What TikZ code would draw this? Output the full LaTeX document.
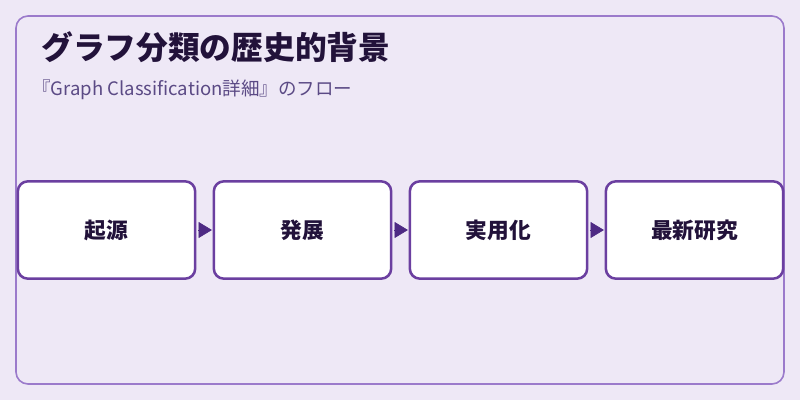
\documentclass[tikz,border=0pt]{standalone}
\usepackage{fontspec}
\setmainfont{Noto Sans CJK JP}
\usetikzlibrary{arrows.meta}
\definecolor{bgpurple}{HTML}{EEE8F6}
\definecolor{framepurple}{HTML}{9B7ACB}
\definecolor{boxpurple}{HTML}{6B3FA0}
\definecolor{arrowpurple}{HTML}{4E2A84}
\definecolor{titleink}{HTML}{22123A}
\definecolor{subink}{HTML}{5B4A85}
\begin{document}
\begin{tikzpicture}[x=0.75pt, y=-0.75pt,
  stagebox/.style={draw=boxpurple, line width=1.9pt, fill=white, rounded corners=7.5pt,
    minimum width=133pt, minimum height=73pt, font=\fontsize{16.3}{18}\selectfont\bfseries, text=titleink},
  flow/.style={draw=arrowpurple, line width=0.5pt, -{Triangle[length=10pt, width=12pt]}, shorten <=1pt, shorten >=0.5pt}]
\useasboundingbox (0,0) rectangle (800,400);
\fill[bgpurple] (0,0) rectangle (800,400);
\draw[framepurple, fill=bgpurple, line width=1.2pt, rounded corners=9pt] (16,16) rectangle (784,384);
\node[anchor=base west, text=titleink, inner sep=0pt, font=\fontsize{23.8}{26}\selectfont\bfseries] (title) at (41,59) {グラフ分類の歴史的背景};
\node[anchor=base west, text=subink, inner sep=0pt, font=\fontsize{13.9}{16}\selectfont] (subtitle) at (32,95) {『Graph Classification詳細』のフロー};
\node[stagebox] (origin) at (106.5, 230) {起源};
\node[stagebox] (growth) at (302.5, 230) {発展};
\node[stagebox] (practice) at (498.5, 230) {実用化};
\node[stagebox] (latest) at (694.5, 230) {最新研究};
\draw[flow] (origin.east) -- (growth.west);
\draw[flow] (growth.east) -- (practice.west);
\draw[flow] (practice.east) -- (latest.west);
\end{tikzpicture}
\end{document}
